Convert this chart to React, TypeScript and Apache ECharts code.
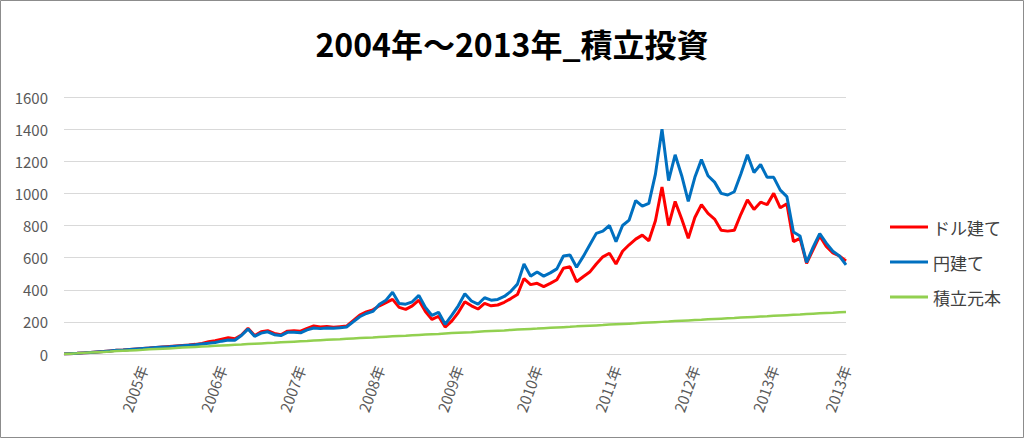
import { useEffect, useRef } from "react";
import * as echarts from "echarts";

const titleText = "2004年～2013年_積立投資";
const seriesNames = ["ドル建て", "円建て", "積立元本"];
const seriesColors = ["#FF0000", "#0070C0", "#92D050"];
const yMin = 0;
const yMax = 1600;
const yStep = 200;
const startYear = 2004;
const yearCount = 10;

// monthly categories 2004/01 .. 2013/12
const categories: string[] = [];
for (let y = 0; y < yearCount; y++) {
  for (let m = 1; m <= 12; m++) {
    categories.push(`${startYear + y}/${m < 10 ? "0" + m : m}`);
  }
}

const dollarValues = [
  0, 2, 4, 7, 9, 12, 15, 19, 23, 25,
  28, 31, 34, 37, 41, 44, 47, 50, 53, 56,
  60, 66, 76, 82, 92, 101, 95, 118, 160, 115,
  138, 145, 128, 120, 142, 145, 142, 160, 175, 168,
  172, 166, 170, 174, 208, 242, 262, 275, 300, 320,
  340, 290, 278, 300, 335, 265, 215, 235, 168, 205,
  258, 325, 300, 280, 315, 300, 305, 322, 345, 370,
  470, 432, 440, 420, 440, 462, 534, 543, 450, 481,
  510, 560, 605, 627, 560, 640, 680, 715, 740, 705,
  830, 1040, 800, 950, 840, 720, 850, 930, 875, 840,
  770, 765, 770, 870, 960, 900, 945, 930, 1000, 910,
  935, 700, 720, 565, 650, 735, 670, 630, 610, 580,
];

const yenValues = [
  0, 2, 4, 7, 9, 12, 15, 19, 23, 25,
  28, 31, 34, 37, 40, 43, 45, 48, 51, 54,
  57, 62, 67, 72, 80, 87, 86, 115, 155, 110,
  130, 138, 120, 115, 135, 135, 132, 150, 162, 158,
  162, 160, 163, 168, 200, 232, 252, 265, 310, 335,
  385, 315, 310, 325, 365, 290, 240, 260, 185, 240,
  300, 375, 330, 310, 350, 335, 340, 358, 390, 435,
  560, 485, 510, 485, 505, 530, 610, 616, 540, 606,
  679, 751, 765, 800, 700, 800, 834, 955, 920, 938,
  1120, 1400, 1080, 1240, 1110, 950, 1100, 1210, 1110, 1070,
  1000, 990, 1010, 1120, 1240, 1130, 1180, 1100, 1100, 1020,
  980, 760, 735, 570, 665, 750, 690, 640, 610, 555,
];

const principalValues = [
  0, 2, 4, 7, 9, 11, 13, 15, 18, 20,
  22, 24, 26, 29, 31, 33, 35, 37, 40, 42,
  44, 46, 48, 51, 53, 55, 57, 59, 62, 64,
  66, 68, 70, 73, 75, 77, 79, 81, 84, 86,
  88, 90, 92, 95, 97, 99, 101, 103, 106, 108,
  110, 112, 114, 117, 119, 121, 123, 125, 128, 130,
  132, 134, 136, 139, 141, 143, 145, 147, 150, 152,
  154, 156, 158, 161, 163, 165, 167, 169, 172, 174,
  176, 178, 180, 183, 185, 187, 189, 191, 194, 196,
  198, 200, 202, 205, 207, 209, 211, 213, 216, 218,
  220, 222, 224, 227, 229, 231, 233, 235, 238, 240,
  242, 244, 246, 249, 251, 253, 255, 257, 260, 262,
];

const FONT = '"Noto Sans CJK JP", "Noto Sans", sans-serif';

export default function App() {
  const ref = useRef<HTMLDivElement>(null);
  useEffect(() => {
    if (!ref.current) return;
    const chart = echarts.init(ref.current, undefined, { renderer: "svg" });
    const valueSets = [dollarValues, yenValues, principalValues];
    const lastIdx = categories.length - 1;
    chart.setOption({
      animation: false,
      backgroundColor: "#ffffff",
      textStyle: { fontFamily: FONT },
      title: {
        text: titleText,
        left: "center",
        top: 22,
        textStyle: { fontSize: 32, fontWeight: "bold", color: "#000000", fontFamily: FONT },
      },
      legend: {
        orient: "vertical",
        left: 885,
        top: 212,
        icon: "rect",
        itemWidth: 38,
        itemHeight: 3,
        itemGap: 15,
        itemStyle: { borderWidth: 0 },
        textStyle: { fontSize: 17, color: "#404040", lineHeight: 20, fontFamily: FONT },
        data: seriesNames,
      },
      grid: { left: 64, top: 97, width: 782, height: 257 },
      xAxis: {
        type: "category",
        data: categories,
        boundaryGap: false,
        axisLine: { lineStyle: { color: "#d9d9d9", width: 1 } },
        axisTick: { show: false },
        splitLine: { show: false },
        axisLabel: {
          interval: (idx: number) => idx > 0 && (idx % 12 === 0 || idx === lastIdx),
          rotate: 70,
          margin: 12,
          fontSize: 15,
          color: "#595959",
          fontFamily: FONT,
          formatter: (v: string) => v.slice(0, 4) + "年",
        },
      },
      yAxis: {
        type: "value",
        min: yMin,
        max: yMax,
        interval: yStep,
        axisLine: { show: false },
        axisTick: { show: false },
        splitLine: { lineStyle: { color: "#d9d9d9", width: 1 } },
        axisLabel: {
          fontSize: 15,
          color: "#595959",
          margin: 16,
          fontFamily: FONT,
          formatter: (v: number) => String(v),
        },
      },
      series: seriesNames.map((name, i) => ({
        name,
        type: "line",
        data: valueSets[i],
        showSymbol: false,
        symbol: "none",
        lineStyle: { color: seriesColors[i], width: i === 2 ? 2.5 : 3 },
        itemStyle: { color: seriesColors[i] },
        emphasis: { disabled: true },
      })),
      graphic: [
        {
          type: "rect",
          shape: { x: 0.5, y: 0.5, width: 1023, height: 437 },
          style: { fill: "none", stroke: "#8c8c8c", lineWidth: 1 },
          silent: true,
        },
      ],
    });
    return () => chart.dispose();
  }, []);
  return (
    <div
      ref={ref}
      style={{ position: "absolute", left: 0, top: 0, width: 1024, height: 438, background: "#fff" }}
    />
  );
}
